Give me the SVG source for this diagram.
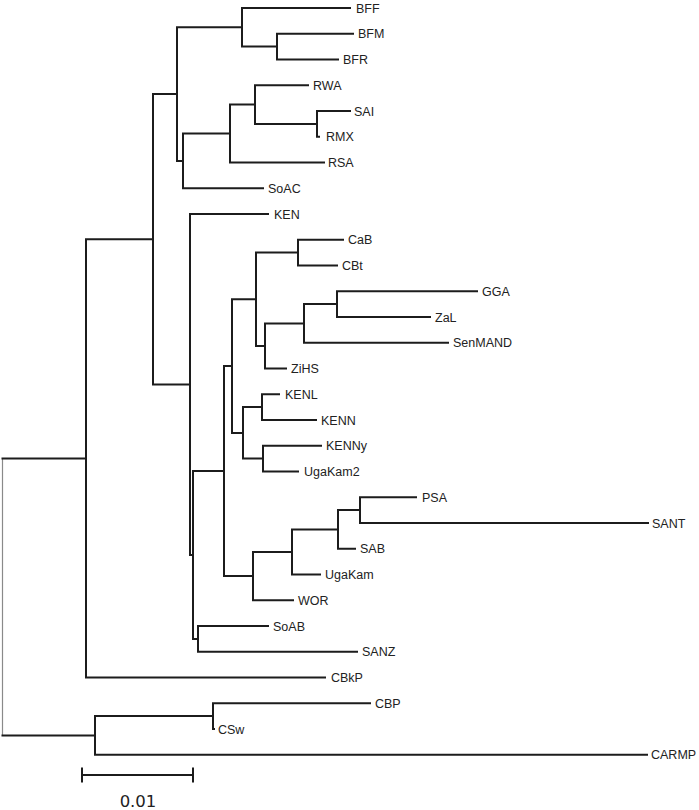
<svg xmlns="http://www.w3.org/2000/svg" width="699" height="810" viewBox="0 0 699 810">
<style>
.e{fill:none;stroke:#1c1c1c;stroke-width:2;stroke-linecap:square}
.r{fill:none;stroke:#8a8a8a;stroke-width:1.2}
.l{font-family:"Liberation Sans",Arial,sans-serif;font-size:12.5px;fill:#222}
.s{font-family:"DejaVu Sans",sans-serif;font-size:16.5px;fill:#222;text-anchor:middle}
</style>
<rect width="699" height="810" fill="#fff"/>
<g id="connectors">
<path class="r" d="M2.5 458.4V735.4"/>
<path class="e" d="M2.5 458.4H86M2.5 735.4H95
M86 239.3V677.5M86 239.3H153M86 677.5H325
M153 94.1V384.5M153 94.1H177M153 384.5H190
M177 27.3V160.9M177 27.3H242M177 160.9H183
M242 8V46.6M242 8H350M242 46.6H277
M277 33.75V59.5M277 33.75H353M277 59.5H338
M183 133.5V188.25M183 133.5H230M183 188.25H263
M230 104.6V162.5M230 104.6H255M230 162.5H324
M255 85.25V123.9M255 85.25H308M255 123.9H317
M317 111V136.75M317 111H350M317 136.75H319
M190 214V555M190 214H268M190 555H193
M193 471.1V638.9M193 471.1H224M193 638.9H198
M198 626V651.75M198 626H268M198 651.75H357
M224 366.1V576.1M224 366.1H232M224 576.1H253
M232 299.3V432.9M232 299.3H256M232 432.9H243
M256 252.6V346M256 252.6H298M256 346H265
M298 239.75V265.5M298 239.75H343M298 265.5H337
M265 323.4V368.5M265 323.4H304M265 368.5H286
M304 304.1V342.75M304 304.1H337M304 342.75H448
M337 291.25V317M337 291.25H477M337 317H430
M243 407.1V458.6M243 407.1H262M243 458.6H263
M262 394.25V420M262 394.25H279M262 420H316
M263 445.75V471.5M263 445.75H321M263 471.5H298
M253 552V600.25M253 552H292M253 600.25H293
M292 529.4V574.5M292 529.4H338M292 574.5H320
M338 510.1V548.75M338 510.1H360M338 548.75H355
M360 497.25V523M360 497.25H416M360 523H648
M95 716.1V754.75M95 716.1H213M95 754.75H647
M213 703.25V729M213 703.25H370M213 729H214"/>
</g>
<g id="BFF"><text class="l" x="356" y="12.5">BFF</text></g>
<g id="BFM"><text class="l" x="358" y="38.2">BFM</text></g>
<g id="BFR"><text class="l" x="343" y="64">BFR</text></g>
<g id="RWA"><text class="l" x="313" y="89.7">RWA</text></g>
<g id="SAI"><text class="l" x="354" y="115.5">SAI</text></g>
<g id="RMX"><text class="l" x="326" y="141.2">RMX</text></g>
<g id="RSA"><text class="l" x="328" y="167">RSA</text></g>
<g id="SoAC"><text class="l" x="268" y="192.7">SoAC</text></g>
<g id="KEN"><text class="l" x="274" y="218.5">KEN</text></g>
<g id="CaB"><text class="l" x="348" y="244.2">CaB</text></g>
<g id="CBt"><text class="l" x="342" y="270">CBt</text></g>
<g id="GGA"><text class="l" x="482" y="295.7">GGA</text></g>
<g id="ZaL"><text class="l" x="435" y="321.5">ZaL</text></g>
<g id="SenMAND"><text class="l" x="453" y="347.2">SenMAND</text></g>
<g id="ZiHS"><text class="l" x="291" y="373">ZiHS</text></g>
<g id="KENL"><text class="l" x="285" y="398.7">KENL</text></g>
<g id="KENN"><text class="l" x="321" y="424.5">KENN</text></g>
<g id="KENNy"><text class="l" x="326" y="450.2">KENNy</text></g>
<g id="UgaKam2"><text class="l" x="304" y="476">UgaKam2</text></g>
<g id="PSA"><text class="l" x="422" y="501.7">PSA</text></g>
<g id="SANT"><text class="l" x="652" y="527.5">SANT</text></g>
<g id="SAB"><text class="l" x="360" y="553.2">SAB</text></g>
<g id="UgaKam"><text class="l" x="325" y="579">UgaKam</text></g>
<g id="WOR"><text class="l" x="298" y="604.7">WOR</text></g>
<g id="SoAB"><text class="l" x="273" y="630.5">SoAB</text></g>
<g id="SANZ"><text class="l" x="362" y="656.2">SANZ</text></g>
<g id="CBkP"><text class="l" x="331" y="682">CBkP</text></g>
<g id="CBP"><text class="l" x="375" y="707.7">CBP</text></g>
<g id="CSw"><text class="l" x="218" y="733.5">CSw</text></g>
<g id="CARMP"><text class="l" x="651" y="759.2">CARMP</text></g>
<g id="scale">
<path class="e" d="M82 775H193M82 767.5V782.5M193 767.5V782.5" style="stroke-linecap:butt"/>
<text class="s" x="138" y="807">0.01</text>
</g>
</svg>
